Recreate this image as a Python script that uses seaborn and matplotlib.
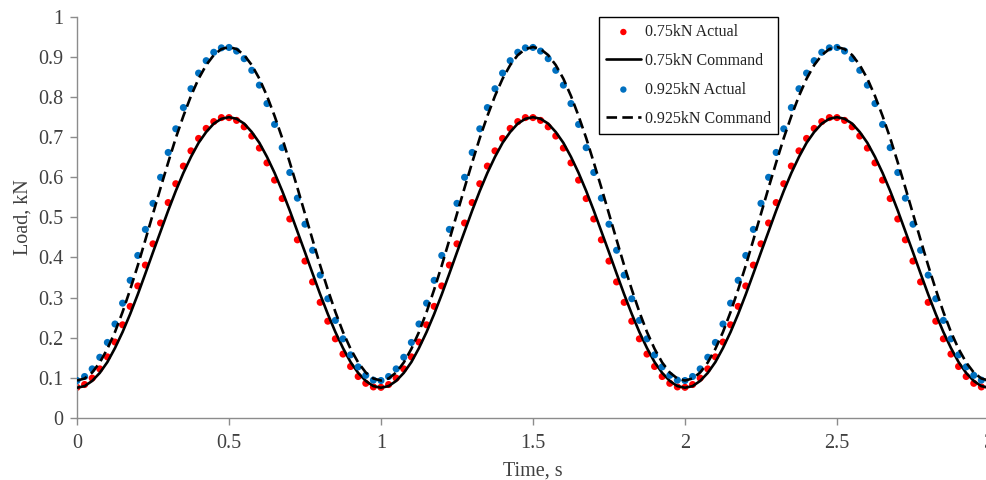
import numpy as np
import pandas as pd
import seaborn as sns
import matplotlib
matplotlib.use("Agg")
import matplotlib.pyplot as plt

time_s = np.linspace(0, 3, 121)

actual_075 = [
    0.076, 0.083, 0.099, 0.122, 0.152, 0.189, 0.232, 0.278, 0.329, 0.381,
    0.434, 0.486, 0.537, 0.584, 0.628, 0.666, 0.697, 0.722, 0.739, 0.749,
    0.749, 0.742, 0.726, 0.703, 0.673, 0.636, 0.593, 0.547, 0.496, 0.444,
    0.391, 0.339, 0.288, 0.241, 0.197, 0.159, 0.128, 0.103, 0.086, 0.077,
    0.076, 0.083, 0.099, 0.122, 0.152, 0.189, 0.232, 0.278, 0.329, 0.381,
    0.434, 0.486, 0.537, 0.584, 0.628, 0.666, 0.697, 0.722, 0.739, 0.749,
    0.749, 0.742, 0.726, 0.703, 0.673, 0.636, 0.593, 0.547, 0.496, 0.444,
    0.391, 0.339, 0.288, 0.241, 0.197, 0.159, 0.128, 0.103, 0.086, 0.077,
    0.076, 0.083, 0.099, 0.122, 0.152, 0.189, 0.232, 0.278, 0.329, 0.381,
    0.434, 0.486, 0.537, 0.584, 0.628, 0.666, 0.697, 0.722, 0.739, 0.749,
    0.749, 0.742, 0.726, 0.703, 0.673, 0.636, 0.593, 0.547, 0.496, 0.444,
    0.391, 0.339, 0.288, 0.241, 0.197, 0.159, 0.128, 0.103, 0.086, 0.077,
    0.076,
]

command_075 = [
    0.075, 0.079, 0.092, 0.112, 0.139, 0.174, 0.214, 0.259, 0.308, 0.360,
    0.413, 0.465, 0.517, 0.566, 0.611, 0.651, 0.686, 0.713, 0.734, 0.746,
    0.750, 0.746, 0.734, 0.713, 0.686, 0.651, 0.611, 0.566, 0.517, 0.465,
    0.413, 0.360, 0.308, 0.259, 0.214, 0.174, 0.139, 0.112, 0.092, 0.079,
    0.075, 0.079, 0.092, 0.112, 0.139, 0.174, 0.214, 0.259, 0.308, 0.360,
    0.413, 0.465, 0.517, 0.566, 0.611, 0.651, 0.686, 0.713, 0.734, 0.746,
    0.750, 0.746, 0.734, 0.713, 0.686, 0.651, 0.611, 0.566, 0.517, 0.465,
    0.413, 0.360, 0.308, 0.259, 0.214, 0.174, 0.139, 0.112, 0.092, 0.079,
    0.075, 0.079, 0.092, 0.112, 0.139, 0.174, 0.214, 0.259, 0.308, 0.360,
    0.413, 0.465, 0.517, 0.566, 0.611, 0.651, 0.686, 0.713, 0.734, 0.746,
    0.750, 0.746, 0.734, 0.713, 0.686, 0.651, 0.611, 0.566, 0.517, 0.465,
    0.413, 0.360, 0.308, 0.259, 0.214, 0.174, 0.139, 0.112, 0.092, 0.079,
    0.075,
]

actual_0925 = [
    0.093, 0.103, 0.122, 0.151, 0.188, 0.234, 0.286, 0.343, 0.405, 0.470,
    0.535, 0.600, 0.662, 0.721, 0.774, 0.821, 0.860, 0.891, 0.912, 0.923,
    0.924, 0.915, 0.896, 0.867, 0.830, 0.784, 0.732, 0.674, 0.612, 0.548,
    0.483, 0.418, 0.356, 0.297, 0.243, 0.197, 0.157, 0.127, 0.106, 0.094,
    0.093, 0.103, 0.122, 0.151, 0.188, 0.234, 0.286, 0.343, 0.405, 0.470,
    0.535, 0.600, 0.662, 0.721, 0.774, 0.821, 0.860, 0.891, 0.912, 0.923,
    0.924, 0.915, 0.896, 0.867, 0.830, 0.784, 0.732, 0.674, 0.612, 0.548,
    0.483, 0.418, 0.356, 0.297, 0.243, 0.197, 0.157, 0.127, 0.106, 0.094,
    0.093, 0.103, 0.122, 0.151, 0.188, 0.234, 0.286, 0.343, 0.405, 0.470,
    0.535, 0.600, 0.662, 0.721, 0.774, 0.821, 0.860, 0.891, 0.912, 0.923,
    0.924, 0.915, 0.896, 0.867, 0.830, 0.784, 0.732, 0.674, 0.612, 0.548,
    0.483, 0.418, 0.356, 0.297, 0.243, 0.197, 0.157, 0.127, 0.106, 0.094,
    0.093,
]

command_0925 = [
    0.093, 0.098, 0.113, 0.138, 0.172, 0.214, 0.264, 0.320, 0.380, 0.444,
    0.509, 0.574, 0.637, 0.698, 0.753, 0.803, 0.846, 0.880, 0.905, 0.920,
    0.925, 0.920, 0.905, 0.880, 0.846, 0.803, 0.753, 0.698, 0.637, 0.574,
    0.509, 0.444, 0.380, 0.320, 0.264, 0.214, 0.172, 0.138, 0.113, 0.098,
    0.093, 0.098, 0.113, 0.138, 0.172, 0.214, 0.264, 0.320, 0.380, 0.444,
    0.509, 0.574, 0.637, 0.698, 0.753, 0.803, 0.846, 0.880, 0.905, 0.920,
    0.925, 0.920, 0.905, 0.880, 0.846, 0.803, 0.753, 0.698, 0.637, 0.574,
    0.509, 0.444, 0.380, 0.320, 0.264, 0.214, 0.172, 0.138, 0.113, 0.098,
    0.093, 0.098, 0.113, 0.138, 0.172, 0.214, 0.264, 0.320, 0.380, 0.444,
    0.509, 0.574, 0.637, 0.698, 0.753, 0.803, 0.846, 0.880, 0.905, 0.920,
    0.925, 0.920, 0.905, 0.880, 0.846, 0.803, 0.753, 0.698, 0.637, 0.574,
    0.509, 0.444, 0.380, 0.320, 0.264, 0.214, 0.172, 0.138, 0.113, 0.098,
    0.093,
]

x_ticks = [0, 0.5, 1, 1.5, 2, 2.5, 3]
x_tick_labels = ["0", "0.5", "1", "1.5", "2", "2.5", "3"]
y_ticks = [0, 0.1, 0.2, 0.3, 0.4, 0.5, 0.6, 0.7, 0.8, 0.9, 1]
y_tick_labels = ["0", "0.1", "0.2", "0.3", "0.4", "0.5", "0.6", "0.7", "0.8", "0.9", "1"]

df = pd.DataFrame({
    "t": time_s,
    "a075": actual_075,
    "c075": command_075,
    "a0925": actual_0925,
    "c0925": command_0925,
})

sns.set_theme(style="white")
plt.rcParams["font.family"] = ["Liberation Serif", "DejaVu Serif"]

fig = plt.figure(figsize=(9.87, 4.8), dpi=100)
ax = fig.add_axes([0.078, 0.1296, 0.924, 0.835])

red = "#FF0000"
blue = "#0070C0"

sns.scatterplot(data=df, x="t", y="a075", ax=ax, color=red, s=26,
                edgecolor="none", label="0.75kN Actual", zorder=2)
sns.lineplot(data=df, x="t", y="c075", ax=ax, color="black", lw=1.9,
             label="0.75kN Command", zorder=3)
sns.scatterplot(data=df, x="t", y="a0925", ax=ax, color=blue, s=26,
                edgecolor="none", label="0.925kN Actual", zorder=4)
sns.lineplot(data=df, x="t", y="c0925", ax=ax, color="black", lw=1.9,
             linestyle=(0, (4, 2)), label="0.925kN Command", zorder=5)

ax.set_xlim(0, 3)
ax.set_ylim(0, 1)
ax.set_xticks(x_ticks)
ax.set_xticklabels(x_tick_labels)
ax.set_yticks(y_ticks)
ax.set_yticklabels(y_tick_labels)

spine_col = "#8C8C8C"
for s in ["top", "right"]:
    ax.spines[s].set_visible(False)
for s in ["left", "bottom"]:
    ax.spines[s].set_color(spine_col)
    ax.spines[s].set_linewidth(1.0)

ax.tick_params(axis="both", which="major", direction="out", length=5,
               width=1.0, color=spine_col, labelsize=14.5, labelcolor="#404040",
               bottom=True, left=True)
ax.tick_params(axis="x", pad=7)
ax.tick_params(axis="y", pad=5)
ax.set_xlabel("Time, s", fontsize=14.5, color="#404040", labelpad=6)
ax.set_ylabel("Load, kN", fontsize=14.5, color="#404040", labelpad=4)
ax.grid(False)

handles, labels = ax.get_legend_handles_labels()
leg = ax.legend(handles, labels, loc="upper left",
                bbox_to_anchor=(599 / 987, 1 - 17 / 480),
                bbox_transform=fig.transFigure, borderaxespad=0,
                fancybox=False, framealpha=1, edgecolor="black",
                fontsize=11.5, labelspacing=0.8, handlelength=2.15,
                handletextpad=0.25, borderpad=0.45, markerscale=0.9)
leg.get_frame().set_linewidth(1.0)
for txt in leg.get_texts():
    txt.set_color("#222222")
leg.set_zorder(10)

for sp in ax.spines.values():
    sp.set_clip_on(False)

fig.savefig("out.png", dpi=100)
